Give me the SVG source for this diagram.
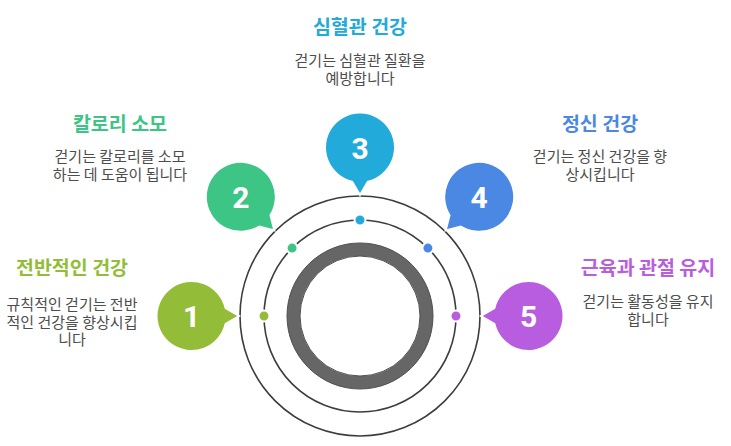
<svg xmlns="http://www.w3.org/2000/svg" width="731" height="446" viewBox="0 0 731 446">
<style>
.title{font-family:"Noto Sans CJK KR","Noto Sans",sans-serif;font-weight:700;font-size:19.5px;text-anchor:middle}
.body{font-family:"Noto Sans CJK KR","Noto Sans",sans-serif;font-size:15px;fill:#4d4d4d;text-anchor:middle}
.num{font-family:Roboto,"Liberation Sans",sans-serif;font-weight:700;font-size:30px;fill:#ffffff;text-anchor:middle}
.ring{fill:none;stroke:#3d3d3d;stroke-width:1.6}
.bub{stroke:#ffffff;stroke-width:2}
.dot{stroke:#ffffff;stroke-width:2}
</style>
<defs>
<path id="bubble" d="M34.1,7.9 A35,35 0 1 1 34.1,-7.9 L47.5,0 Z"/>
</defs>
<rect width="731" height="446" fill="#ffffff"/>
<g id="rings">
<circle cx="360" cy="316" r="120" class="ring"/>
<circle cx="360" cy="316" r="96" class="ring"/>
<circle cx="360" cy="316" r="66.5" fill="none" stroke="#666666" stroke-width="13"/>
<circle cx="360" cy="316" r="60" fill="none" stroke="#505050" stroke-width="1"/>
<circle cx="360" cy="316" r="73" fill="none" stroke="#505050" stroke-width="1"/>
</g>
<g id="connectors">
<circle cx="264" cy="316" r="5.5" class="dot" fill="#93bd38"/>
<circle cx="292.1" cy="248.1" r="5.5" class="dot" fill="#3dc585"/>
<circle cx="360" cy="220" r="5.5" class="dot" fill="#22aadb"/>
<circle cx="427.9" cy="248.1" r="5.5" class="dot" fill="#4a88e4"/>
<circle cx="456" cy="316" r="5.5" class="dot" fill="#b95de0"/>
</g>
<g id="node1">
<use href="#bubble" class="bub" fill="#93bd38" transform="translate(191.5,316)"/>
<text x="191.5" y="327" class="num">1</text>
<text x="72" y="274.5" class="title" fill="#93bd38">전반적인 건강</text>
<text x="72" y="310" class="body">규칙적인 걷기는 전반</text>
<text x="72" y="327.5" class="body">적인 건강을 향상시킵</text>
<text x="72" y="345" class="body">니다</text>
</g>
<g id="node2">
<use href="#bubble" class="bub" fill="#3dc585" transform="translate(240.8,196.8) rotate(45)"/>
<text x="240.8" y="207.8" class="num">2</text>
<text x="120" y="130.5" class="title" fill="#3dc585">칼로리 소모</text>
<text x="120" y="161.5" class="body">걷기는 칼로리를 소모</text>
<text x="120" y="180" class="body">하는 데 도움이 됩니다</text>
</g>
<g id="node3">
<use href="#bubble" class="bub" fill="#22aadb" transform="translate(360,147.5) rotate(90)"/>
<text x="360" y="33.5" class="title" fill="#22aadb">심혈관 건강</text>
<text x="360" y="158.5" class="num">3</text>
<text x="360" y="66" class="body">걷기는 심혈관 질환을</text>
<text x="360" y="84" class="body">예방합니다</text>
</g>
<g id="node4">
<use href="#bubble" class="bub" fill="#4a88e4" transform="translate(479.2,196.8) rotate(135)"/>
<text x="479.2" y="207.8" class="num">4</text>
<text x="600" y="131" class="title" fill="#4a88e4">정신 건강</text>
<text x="600" y="161.5" class="body">걷기는 정신 건강을 향</text>
<text x="600" y="179.5" class="body">상시킵니다</text>
</g>
<g id="node5">
<use href="#bubble" class="bub" fill="#b95de0" transform="translate(528.5,316) rotate(180)"/>
<text x="528.5" y="327" class="num">5</text>
<text x="648" y="275" class="title" fill="#b95de0">근육과 관절 유지</text>
<text x="648" y="307" class="body">걷기는 활동성을 유지</text>
<text x="648" y="324.5" class="body">합니다</text>
</g>
</svg>
